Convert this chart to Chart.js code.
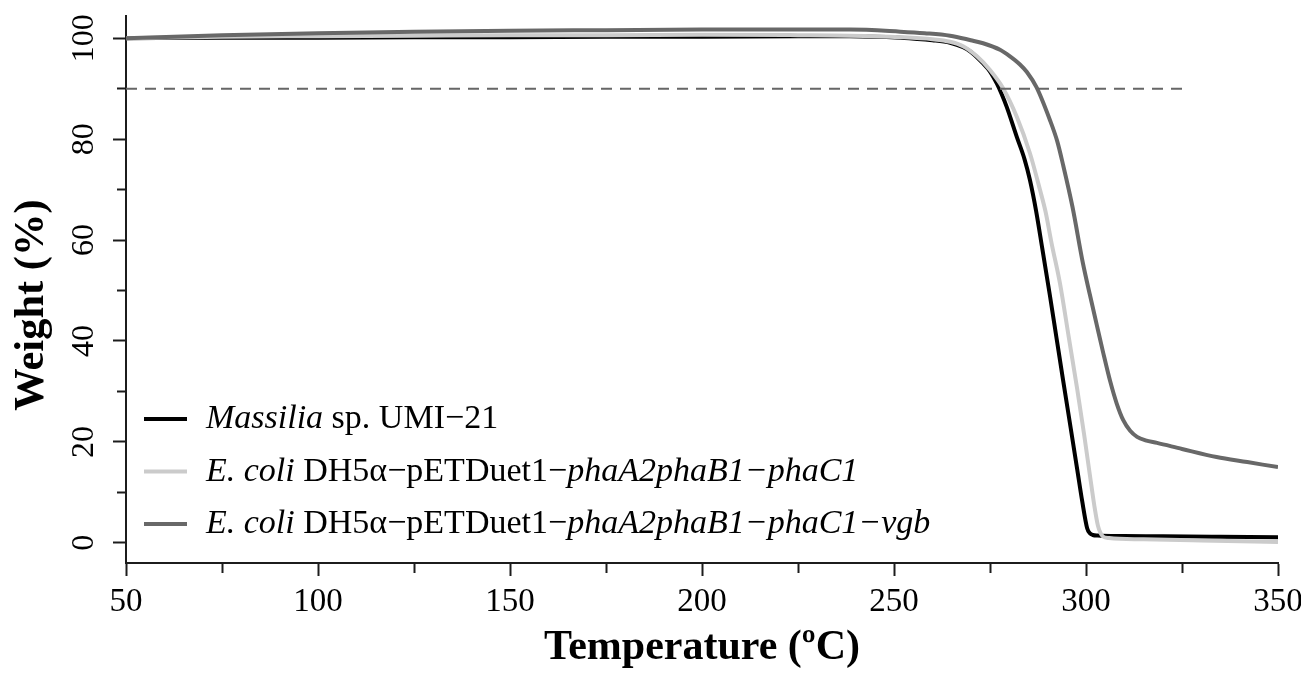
<!DOCTYPE html>
<html>
<head>
<meta charset="utf-8">
<script src="https://cdn.jsdelivr.net/npm/chart.js@4.4.1/dist/chart.umd.min.js"></script>
<style>
html,body{margin:0;padding:0;background:#ffffff;}
#wrap{width:1301px;height:675px;position:relative;}
</style>
</head>
<body>
<div id="wrap"><canvas id="c" width="1301" height="675"></canvas></div>
<script>
// ---------------- data ----------------
const xTicks = [50, 75, 100, 125, 150, 175, 200, 225, 250, 275, 300, 325, 350];
const xLabels = [50, 100, 150, 200, 250, 300, 350];
const yTicks = [0, 10, 20, 30, 40, 50, 60, 70, 80, 90, 100];
const yLabels = [0, 20, 40, 60, 80, 100];

const massiliaT = [50, 75, 100, 125, 150, 175, 200, 225, 238.5, 251.6, 260, 264.6, 268, 270, 273.2, 275, 276.8, 278, 279.4, 282, 284, 285.4, 287, 288.6, 290.6, 292.3, 294, 296, 297.7, 299, 300.3, 301, 301.8, 303, 310, 320, 335, 350];
const massiliaW = [100.0, 100.1, 100.1, 100.2, 100.2, 100.3, 100.3, 100.4, 100.4, 100.1, 99.6, 99.1, 98.2, 97.3, 95.0, 93.4, 91.0, 89.0, 86.3, 80.4, 76.0, 71.9, 65.8, 58.4, 49.0, 40.7, 32.4, 22.8, 14.6, 8.3, 2.9, 1.9, 1.55, 1.45, 1.35, 1.3, 1.2, 1.1];

const ecoliT = [50, 75, 100, 125, 150, 175, 200, 225, 238.5, 251.6, 260, 264.6, 268, 271.6, 275, 278.4, 282, 285.4, 288, 289.5, 291, 293.2, 295.5, 297.7, 299.5, 301, 302.2, 303.1, 303.8, 304.4, 306, 315, 330, 350];
const ecoliW = [100.0, 100.3, 100.4, 100.5, 100.6, 100.6, 100.7, 100.6, 100.5, 100.2, 99.8, 99.3, 98.4, 96.4, 93.7, 90.1, 84.4, 77.2, 70.0, 65.5, 59.5, 51.5, 40.8, 30.5, 21.5, 13.5, 7.2, 3.4, 1.9, 1.25, 0.95, 0.7, 0.45, 0.15];

const vgbT = [50, 75, 100, 125, 150, 175, 200, 225, 238.5, 251.6, 258, 264.6, 270, 273.2, 277.6, 280.2, 282.8, 284.6, 287.1, 290.6, 292.5, 294, 296.5, 299.2, 301, 302.8, 304.5, 306.3, 308, 309.7, 311.5, 313.3, 315.5, 318.5, 325, 334, 342, 350];
const vgbW = [100.0, 100.6, 101.0, 101.3, 101.5, 101.6, 101.7, 101.7, 101.7, 101.3, 101.0, 100.5, 99.6, 99.0, 97.7, 96.4, 94.8, 93.3, 90.3, 83.8, 79.6, 75.0, 66.5, 55.4, 49.2, 43.2, 37.6, 32.0, 27.6, 24.3, 22.2, 21.0, 20.3, 19.8, 18.6, 17.0, 16.0, 15.0];

const refT = [50, 325];
const refW = [90, 90];

// legend names: [text, italic]
const seriesNames = [
  [["Massilia", true], [" sp. UMI\u221221", false]],
  [["E. coli", true], [" DH5\u03b1\u2212pETDuet1\u2212", false], ["phaA2phaB1\u2212phaC1", true]],
  [["E. coli", true], [" DH5\u03b1\u2212pETDuet1\u2212", false], ["phaA2phaB1\u2212phaC1\u2212vgb", true]]
];
const seriesColors = ['#000000', '#cbcbcb', '#686868'];
const yTitle = 'Weight (%)';
const xTitle = 'Temperature (\u00baC)';

// ---------------- chart ----------------
const FONT = '"Liberation Serif", "Times New Roman", serif';
const ink = '#1c1c1c';
function pts(T, W) { return T.map((t, i) => ({x: t, y: W[i]})); }

const richLegend = {
  id: 'richLegend',
  afterDatasetsDraw(chart) {
    const ctx = chart.ctx;
    ctx.save();
    seriesNames.forEach((parts, i) => {
      const ds = chart.data.datasets[i];
      const y = 419 + i * 52.5;
      ctx.strokeStyle = ds.borderColor;
      ctx.lineWidth = 3.8;
      ctx.lineCap = 'butt';
      ctx.setLineDash([]);
      ctx.beginPath(); ctx.moveTo(144, y); ctx.lineTo(187, y); ctx.stroke();
      let x = 206;
      ctx.fillStyle = '#000';
      ctx.textBaseline = 'alphabetic';
      ctx.textAlign = 'left';
      parts.forEach(([txt, it]) => {
        ctx.font = (it ? 'italic ' : '') + '34px ' + FONT;
        ctx.fillText(txt, x, y + 9);
        x += ctx.measureText(txt).width;
      });
    });
    ctx.restore();
  }
};

const yTitlePlugin = {
  id: 'yTitlePlugin',
  afterDraw(chart) {
    const ctx = chart.ctx;
    ctx.save();
    ctx.translate(43, 305);
    ctx.rotate(-Math.PI / 2);
    ctx.font = 'bold 42.5px ' + FONT;
    ctx.fillStyle = '#000';
    ctx.textAlign = 'center';
    ctx.textBaseline = 'alphabetic';
    ctx.fillText(yTitle, 0, 0);
    ctx.restore();
  }
};

const lineStyle = (label, T, W, color, order) => ({
  label, data: pts(T, W), borderColor: color, backgroundColor: color,
  borderWidth: 4, pointRadius: 0, fill: false,
  cubicInterpolationMode: 'monotone', order
});

new Chart(document.getElementById('c'), {
  type: 'line',
  data: {
    datasets: [
      lineStyle('Massilia sp. UMI-21', massiliaT, massiliaW, seriesColors[0], 3),
      lineStyle('E. coli DH5a-pETDuet1-phaA2phaB1-phaC1', ecoliT, ecoliW, seriesColors[1], 2),
      lineStyle('E. coli DH5a-pETDuet1-phaA2phaB1-phaC1-vgb', vgbT, vgbW, seriesColors[2], 1),
      {label: '90%', data: pts(refT, refW), borderColor: '#666666', borderWidth: 2,
       borderDash: [11, 8], pointRadius: 0, fill: false, order: 0}
    ]
  },
  options: {
    responsive: false,
    devicePixelRatio: 1,
    animation: false,
    layout: {padding: {left: 0, right: 23, top: 16, bottom: 0}},
    plugins: {legend: {display: false}, tooltip: {enabled: false}},
    scales: {
      x: {
        type: 'linear', min: 50, max: 350,
        afterBuildTicks: s => { s.ticks = xTicks.map(v => ({value: v})); },
        afterFit: s => { s.height = 112; s.paddingLeft = 0; s.paddingRight = 0; },
        border: {display: true, color: ink, width: 2},
        grid: {
          drawOnChartArea: false, drawTicks: true, tickLength: 13, tickWidth: 2, tickColor: ink,
          tickBorderDash: c => (xLabels.includes(c.tick && c.tick.value) ? [] : [9, 100])
        },
        ticks: {
          color: '#000', padding: 7, maxRotation: 0, autoSkip: false,
          font: {family: FONT, size: 33},
          callback: v => (xLabels.includes(v) ? String(v) : '')
        },
        title: {display: true, text: xTitle, color: '#000',
                font: {family: FONT, size: 42, weight: 'bold'}, padding: {top: 0, bottom: 2}}
      },
      y: {
        type: 'linear', min: -4, max: 104.4,
        afterBuildTicks: s => { s.ticks = yTicks.map(v => ({value: v})); },
        afterFit: s => { s.width = 126; s.paddingTop = 0; s.paddingBottom = 0; },
        border: {display: true, color: ink, width: 2},
        grid: {
          drawOnChartArea: false, drawTicks: true, tickLength: 13, tickWidth: 2, tickColor: ink,
          tickBorderDash: c => (yLabels.includes(c.tick && c.tick.value) ? [] : [0, 4, 100])
        },
        ticks: {
          color: '#000', padding: 4, minRotation: 90, maxRotation: 90, autoSkip: false,
          crossAlign: 'center',
          font: {family: FONT, size: 32},
          callback: v => (yLabels.includes(v) ? String(v) : '')
        }
      }
    }
  },
  plugins: [richLegend, yTitlePlugin]
});
</script>
</body>
</html>
